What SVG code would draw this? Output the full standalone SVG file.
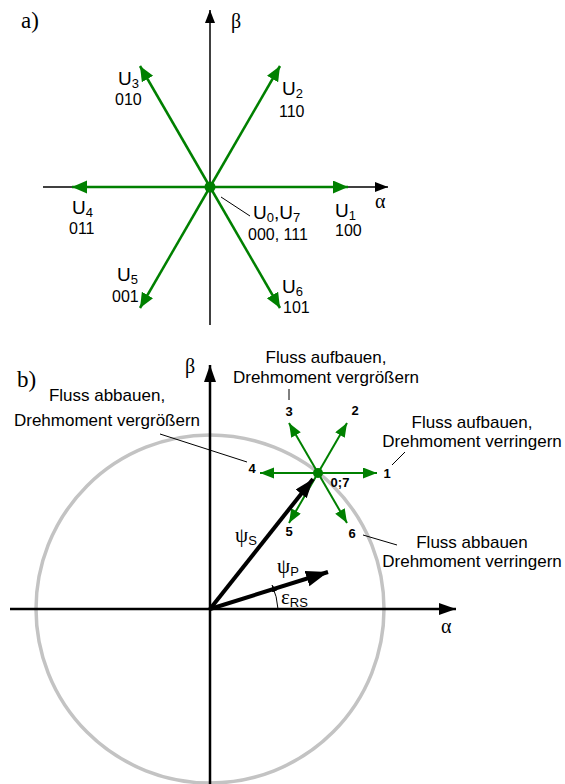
<svg xmlns="http://www.w3.org/2000/svg" width="565" height="784" viewBox="0 0 565 784">
<style>
.ser{font-family:"Liberation Serif","Times New Roman",serif;fill:#000}
.u{font-family:"Liberation Sans",Arial,sans-serif;font-size:19px;fill:#000}
.sb{font-size:13px}
.num{font-family:"Liberation Sans",Arial,sans-serif;font-size:16px;fill:#000}
.lbl{font-family:"Liberation Sans",Arial,sans-serif;font-size:17px;fill:#000;text-anchor:middle}
.bn{font-family:"Liberation Sans",Arial,sans-serif;font-size:13px;font-weight:bold;fill:#000;text-anchor:middle}
.ax{stroke:#000;stroke-width:1.5;fill:none}
.axb{stroke:#000;stroke-width:2.5;fill:none}
.gv{stroke:#008000;stroke-width:2.5;fill:none;marker-end:url(#gA)}
.gvb{stroke:#008000;stroke-width:2;fill:none;marker-end:url(#gB)}
.ld{stroke:#000;stroke-width:1;fill:none}
</style>
<defs>
<marker id="kA" markerUnits="userSpaceOnUse" markerWidth="14" markerHeight="11" refX="13" refY="5" orient="auto"><path d="M0,0 L13,5 L0,10 z" fill="#000"/></marker>
<marker id="kB" markerUnits="userSpaceOnUse" markerWidth="18" markerHeight="13" refX="17" refY="6" orient="auto"><path d="M0,0 L17,6 L0,12 z" fill="#000"/></marker>
<marker id="kS" markerUnits="userSpaceOnUse" markerWidth="20" markerHeight="15" refX="19" refY="7" orient="auto"><path d="M0,0 L19,7 L0,14 z" fill="#000"/></marker>
<marker id="kP" markerUnits="userSpaceOnUse" markerWidth="23" markerHeight="17" refX="22" refY="8" orient="auto"><path d="M0,0 L22,8 L0,16 z" fill="#000"/></marker>
<marker id="kE" markerUnits="userSpaceOnUse" markerWidth="8" markerHeight="7" refX="7" refY="3" orient="auto"><path d="M0,0 L7,3 L0,6 z" fill="#000"/></marker>
<marker id="gA" markerUnits="userSpaceOnUse" markerWidth="16" markerHeight="14" refX="15" refY="6.5" orient="auto"><path d="M0,0 L15,6.5 L0,13 z" fill="#008000"/></marker>
<marker id="gB" markerUnits="userSpaceOnUse" markerWidth="15" markerHeight="12" refX="14" refY="5.5" orient="auto"><path d="M0,0 L14,5.5 L0,11 z" fill="#008000"/></marker>
</defs>

<!-- Part a -->
<g id="a-label"><text class="ser" x="21" y="28" font-size="23">a)</text></g>
<g id="a-axes">
<line class="ax" x1="43" y1="187" x2="388" y2="187" marker-end="url(#kA)"/>
<line class="ax" x1="210" y1="325" x2="210" y2="10" marker-end="url(#kA)"/>
<text class="ser" x="231" y="28" font-size="20">β</text>
<text class="ser" x="375" y="208" font-size="20">α</text>
</g>
<g id="a-connectors">
<line class="gv" x1="210" y1="187" x2="348" y2="187"/>
<line class="gv" x1="210" y1="187" x2="72" y2="187"/>
<line class="gv" x1="210" y1="187" x2="280" y2="66"/>
<line class="gv" x1="210" y1="187" x2="140" y2="66"/>
<line class="gv" x1="210" y1="187" x2="140" y2="308"/>
<line class="gv" x1="210" y1="187" x2="280" y2="308"/>
<line class="ld" x1="221" y1="197" x2="250" y2="216"/>
</g>
<g id="a-center"><circle cx="210" cy="187" r="5.5" fill="#008000"/></g>
<g id="U1"><text class="u" x="335" y="217">U<tspan class="sb" dy="3">1</tspan></text><text class="num" x="335" y="236">100</text></g>
<g id="U2"><text class="u" x="282" y="95">U<tspan class="sb" dy="3">2</tspan></text><text class="num" x="279" y="117">110</text></g>
<g id="U3"><text class="u" x="118" y="85">U<tspan class="sb" dy="3">3</tspan></text><text class="num" x="115" y="105">010</text></g>
<g id="U4"><text class="u" x="72" y="214">U<tspan class="sb" dy="3">4</tspan></text><text class="num" x="69" y="234">011</text></g>
<g id="U5"><text class="u" x="117" y="281">U<tspan class="sb" dy="3">5</tspan></text><text class="num" x="112" y="302">001</text></g>
<g id="U6"><text class="u" x="282" y="293">U<tspan class="sb" dy="3">6</tspan></text><text class="num" x="283" y="313">101</text></g>
<g id="U07"><text class="u" x="253" y="219">U<tspan class="sb" dy="3">0</tspan><tspan dy="-3">,U</tspan><tspan class="sb" dy="3">7</tspan></text><text class="num" x="248" y="240">000, 111</text></g>

<!-- Part b -->
<g id="b-label"><text class="ser" x="17" y="387" font-size="23">b)</text></g>
<g id="b-circle"><circle cx="210" cy="609" r="174" fill="none" stroke="#c3c3c3" stroke-width="3.5"/></g>
<g id="b-axes">
<line class="axb" x1="10" y1="609" x2="456" y2="609" stroke-width="2" marker-end="url(#kB)"/>
<line class="axb" x1="210" y1="784" x2="210" y2="365" marker-end="url(#kB)"/>
<text class="ser" x="185" y="373" font-size="20">β</text>
<text class="ser" x="441" y="633" font-size="20">α</text>
</g>
<g id="b-connectors">
<line class="gvb" x1="318" y1="473" x2="377" y2="473"/>
<line class="gvb" x1="318" y1="473" x2="260" y2="473"/>
<line class="gvb" x1="318" y1="473" x2="347" y2="423"/>
<line class="gvb" x1="318" y1="473" x2="289" y2="423"/>
<line class="gvb" x1="318" y1="473" x2="289" y2="523"/>
<line class="gvb" x1="318" y1="473" x2="347" y2="523"/>
<line x1="210" y1="609" x2="313" y2="479" stroke="#000" stroke-width="4" marker-end="url(#kS)"/>
<line x1="210" y1="609" x2="328" y2="572" stroke="#000" stroke-width="4" marker-end="url(#kP)"/>
<path d="M278,609 A68,68 0 0 0 272,585" stroke="#000" stroke-width="1" fill="none" marker-end="url(#kE)"/>
<line class="ld" x1="289" y1="389" x2="289" y2="400"/>
<line class="ld" x1="392" y1="465" x2="405" y2="452"/>
<line class="ld" x1="363" y1="535" x2="397" y2="545"/>
<line class="ld" x1="160" y1="434" x2="247" y2="462"/>
</g>
<g id="b-center"><circle cx="318" cy="473" r="5" fill="#008000"/></g>
<g id="n1"><text class="bn" x="387" y="478">1</text></g>
<g id="n2"><text class="bn" x="355" y="415">2</text></g>
<g id="n3"><text class="bn" x="289" y="416">3</text></g>
<g id="n4"><text class="bn" x="252" y="473">4</text></g>
<g id="n5"><text class="bn" x="289" y="536">5</text></g>
<g id="n6"><text class="bn" x="352" y="538">6</text></g>
<g id="n07"><text class="bn" x="340" y="487">0;7</text></g>
<g id="psiS"><text class="ser" x="235" y="542" font-size="21">ψ<tspan class="u sb" dy="3">S</tspan></text></g>
<g id="psiP"><text class="ser" x="277" y="573" font-size="21">ψ<tspan class="u sb" dy="3">P</tspan></text></g>
<g id="epsRS"><text class="ser" x="281" y="604" font-size="21">ε<tspan class="u sb" dy="3">RS</tspan></text></g>
<g id="t3"><text class="lbl" x="326" y="363">Fluss aufbauen,</text><text class="lbl" x="326" y="383">Drehmoment vergrößern</text></g>
<g id="t4"><text class="lbl" x="107" y="401">Fluss abbauen,</text><text class="lbl" x="107" y="426">Drehmoment vergrößern</text></g>
<g id="t1"><text class="lbl" x="472" y="428">Fluss aufbauen,</text><text class="lbl" x="472" y="447">Drehmoment verringern</text></g>
<g id="t6"><text class="lbl" x="472" y="548">Fluss abbauen</text><text class="lbl" x="472" y="567">Drehmoment verringern</text></g>
</svg>
